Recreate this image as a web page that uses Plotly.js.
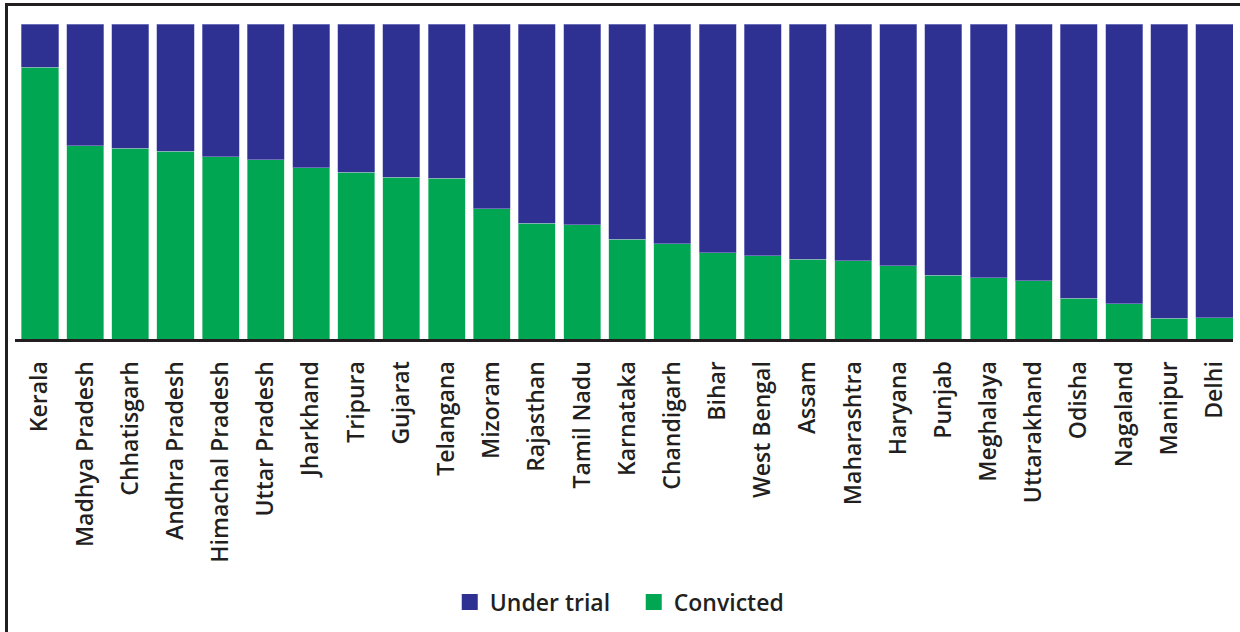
<!DOCTYPE html>
<html>
<head>
<meta charset="utf-8">
<script src="https://cdn.plot.ly/plotly-3.0.1.min.js"></script>
<style>
  html, body { margin: 0; padding: 0; background: #fff; }
  #wrap { position: relative; width: 1240px; height: 632px; overflow: hidden; }
  #chart { position: absolute; left: 0; top: 0; width: 1240px; height: 632px; }
  #frame { position: absolute; left: 5px; top: 3px; width: 1300px; height: 700px;
           border-left: 3px solid #231f20; border-top: 3px solid #231f20; pointer-events: none; }
</style>
</head>
<body>
<div id="wrap">
  <div id="chart"></div>
  <div id="frame"></div>
</div>
<script>
const states = ["Kerala", "Madhya Pradesh", "Chhatisgarh", "Andhra Pradesh", "Himachal Pradesh",
  "Uttar Pradesh", "Jharkhand", "Tripura", "Gujarat", "Telangana", "Mizoram", "Rajasthan",
  "Tamil Nadu", "Karnataka", "Chandigarh", "Bihar", "West Bengal", "Assam", "Maharashtra",
  "Haryana", "Punjab", "Meghalaya", "Uttarakhand", "Odisha", "Nagaland", "Manipur", "Delhi"];

const convicted = [86.3, 61.4, 60.6, 59.6, 57.8, 56.9, 54.3, 53.0, 51.3, 51.1, 41.3, 36.7,
  36.2, 31.7, 30.2, 27.4, 26.4, 25.3, 24.8, 23.3, 20.3, 19.4, 18.5, 13.0, 11.2, 6.6, 6.8];

const underTrial = [13.7, 38.6, 39.4, 40.4, 42.2, 43.1, 45.7, 47.0, 48.7, 48.9, 58.7, 63.3,
  63.8, 68.3, 69.8, 72.6, 73.6, 74.7, 75.2, 76.7, 79.7, 80.6, 81.5, 87.0, 88.8, 93.4, 93.2];

const BLUE = "#2e3192";
const GREEN = "#00a651";
const INK = "#231f20";

const traces = [
  { type: "bar", name: "Convicted", x: states, y: convicted, marker: { color: GREEN,
      line: { width: 0.6, color: "rgba(180,225,195,0.9)" } }, showlegend: false, hoverinfo: "x+y" },
  { type: "bar", name: "Under trial", x: states, y: underTrial, marker: { color: BLUE,
      line: { width: 0.6, color: "rgba(160,160,215,0.9)" } }, showlegend: false, hoverinfo: "x+y" },
  { type: "scatter", mode: "markers", name: "Under trial", x: [null], y: [null],
    marker: { symbol: "square", size: 17, color: BLUE }, showlegend: true },
  { type: "scatter", mode: "markers", name: "Convicted", x: [null], y: [null],
    marker: { symbol: "square", size: 17, color: GREEN }, showlegend: true }
];

const layout = {
  width: 1240, height: 632,
  margin: { l: 15, r: 7, t: 24, b: 293, pad: 0 },
  paper_bgcolor: "#fff", plot_bgcolor: "#fff",
  barmode: "stack", bargap: 0.18,
  font: { family: "Open Sans, sans-serif", color: INK, size: 23 },
  xaxis: {
    type: "category", range: [-0.553, 26.41],
    showline: true, linecolor: INK, linewidth: 3,
    ticks: "", tickangle: -90, showgrid: false, zeroline: false,
    tickfont: { family: "Open Sans, sans-serif", size: 23, color: INK, weight: 600 },
    ticklabelstandoff: 10
  },
  yaxis: {
    range: [0, 100], visible: false, showgrid: false, zeroline: false, fixedrange: true
  },
  legend: {
    orientation: "h", x: 0.508, xanchor: "center", y: -0.835, yanchor: "middle",
    font: { family: "Open Sans, sans-serif", size: 23, color: INK, weight: 600 },
    traceorder: "normal", itemwidth: 30, bgcolor: "rgba(0,0,0,0)",
    entrywidth: 139, entrywidthmode: "pixels"
  },
  showlegend: true
};

Plotly.newPlot("chart", traces, layout, { displayModeBar: false, staticPlot: true });
</script>
</body>
</html>
